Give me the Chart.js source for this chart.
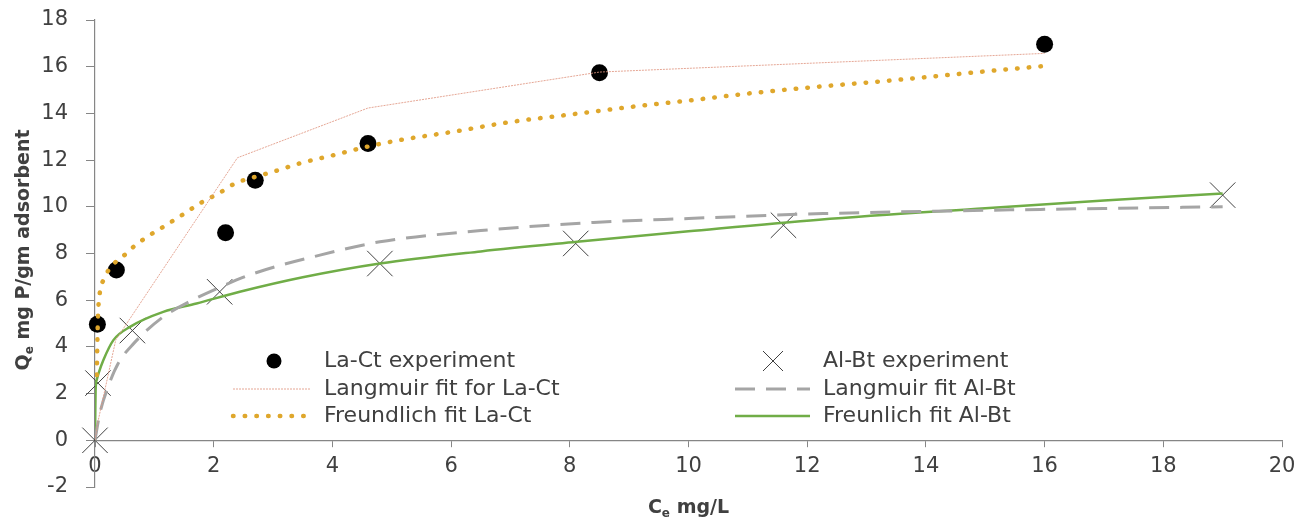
<!DOCTYPE html>
<html>
<head>
<meta charset="utf-8">
<script src="https://cdn.jsdelivr.net/npm/chart.js@4.4.0/dist/chart.umd.min.js"></script>
<style>
  html, body { margin: 0; padding: 0; background: #fff; }
</style>
</head>
<body>
<canvas id="myChart" width="1310" height="525"></canvas>
<script>
// La-Ct experiment
var laCtX = [0.04, 0.36, 2.2, 2.7, 4.6, 8.5, 16];
var laCtY = [4.97, 7.29, 8.89, 11.14, 12.71, 15.74, 16.96];

// Al-Bt experiment
var alBtX = [0, 0.05, 0.63, 2.1, 4.8, 8.1, 11.6, 19];
var alBtY = [0, 2.45, 4.7, 6.36, 7.57, 8.43, 9.21, 10.5];

// Langmuir fit for La-Ct
var langLaX = [0, 0.05, 0.35, 2.4, 4.6, 8.5, 16];
var langLaY = [0, 0.8, 4.3, 12.1, 14.23, 15.77, 16.57];

// Freundlich fit La-Ct
var freLaX = [0.03, 0.04, 0.05, 0.08, 0.15, 0.25, 0.4, 0.53, 0.65, 0.9, 1.15, 1.5, 1.77, 2.1, 2.36, 2.71, 3.0, 3.45, 4.0, 4.58, 5.14, 6, 7, 8, 9.07, 10, 11, 12, 13.5, 15, 16];
var freLaY = [2.8, 4.2, 5.3, 6.3, 6.9, 7.37, 7.75, 8.0, 8.29, 8.75, 9.14, 9.7, 10.15, 10.6, 11.0, 11.29, 11.5, 11.86, 12.2, 12.57, 12.86, 13.2, 13.63, 13.95, 14.29, 14.55, 14.85, 15.1, 15.43, 15.8, 16.03];

// Langmuir fit Al-Bt
var langAlX = [0, 0.08, 0.22, 0.39, 0.65, 1.15, 1.6, 2.1, 2.67, 3.79, 4.8, 6.5, 8.4, 10, 12.27, 15, 17, 19];
var langAlY = [0, 1.14, 2.29, 3.29, 4.14, 5.29, 5.95, 6.55, 7.14, 7.93, 8.5, 8.98, 9.33, 9.5, 9.71, 9.85, 9.93, 10.0];

// Freunlich fit Al-Bt
var freAlX = [0, 0.005, 0.01, 0.03, 0.06, 0.14, 0.31, 0.59, 1.15, 1.71, 2.44, 3.5, 4.8, 6.5, 8.12, 10, 12.2, 15, 17, 19];
var freAlY = [0, 1.2, 2.14, 2.6, 2.87, 3.43, 4.29, 4.86, 5.5, 5.86, 6.36, 6.98, 7.57, 8.09, 8.5, 8.95, 9.45, 9.94, 10.27, 10.57];

var xTicksMin = 0, xTicksMax = 20, xStep = 2;
var yTicksMin = -2, yTicksMax = 18, yStep = 2;

var labels = ['La-Ct experiment', 'Langmuir fit for La-Ct', 'Freundlich fit La-Ct',
              'Al-Bt experiment', 'Langmuir fit Al-Bt', 'Freunlich fit Al-Bt'];

var axisColor = '#868686';
var textColor = '#404040';
var fontFam = '"DejaVu Sans", "Open Sans", sans-serif';

function pts(xs, ys) {
  return xs.map(function (x, i) { return { x: x, y: ys[i] }; });
}

// legend in two columns inside the plot
var legendCols = [
  { marker: 274, from: 233, to: 310, text: 324 },
  { marker: 773, from: 735, to: 810, text: 823 }
];
var legendRows = [361, 389, 416];

function drawMarker(ctx, ds, x, y) {
  ctx.save();
  if (ds.pointStyle === 'crossRot') {
    var h = 10;
    ctx.strokeStyle = ds.pointBorderColor;
    ctx.lineWidth = 1;
    ctx.beginPath();
    ctx.moveTo(x - h, y - h); ctx.lineTo(x + h, y + h);
    ctx.moveTo(x - h, y + h); ctx.lineTo(x + h, y - h);
    ctx.stroke();
  } else {
    ctx.fillStyle = ds.pointBackgroundColor;
    ctx.beginPath();
    ctx.arc(x, y, 7.5, 0, Math.PI * 2);
    ctx.fill();
  }
  ctx.restore();
}

function drawLineSample(ctx, ds, x1, x2, y) {
  ctx.save();
  ctx.strokeStyle = ds.borderColor;
  ctx.lineWidth = ds.borderWidth;
  ctx.lineCap = ds.borderCapStyle || 'butt';
  ctx.setLineDash(ds.borderDash || []);
  ctx.beginPath();
  ctx.moveTo(x1, y);
  ctx.lineTo(x2, y);
  ctx.stroke();
  ctx.restore();
}

var legendPlugin = {
  id: 'twoColLegend',
  afterDraw: function (chart) {
    var ctx = chart.ctx;
    var sets = chart.data.datasets;
    for (var i = 0; i < sets.length; i++) {
      var col = legendCols[Math.floor(i / 3)];
      var y = legendRows[i % 3];
      var ds = sets[i];
      if (ds.showLine) {
        drawLineSample(ctx, ds, col.from, col.to, y);
      } else {
        drawMarker(ctx, ds, col.marker, y);
      }
      ctx.save();
      ctx.fillStyle = textColor;
      ctx.font = '22px ' + fontFam;
      ctx.textBaseline = 'middle';
      ctx.textAlign = 'left';
      ctx.fillText(ds.label, col.text, y);
      ctx.restore();
    }
  }
};

// axis titles with subscript e
function drawSubTitle(ctx, main, sub, rest, cx, cy, rotate) {
  var big = 'bold 19px ' + fontFam;
  var small = 'bold 12px ' + fontFam;
  ctx.save();
  ctx.translate(cx, cy);
  if (rotate) ctx.rotate(-Math.PI / 2);
  ctx.fillStyle = textColor;
  ctx.textBaseline = 'middle';
  ctx.textAlign = 'left';
  ctx.font = big;
  var w1 = ctx.measureText(main).width;
  var w3 = ctx.measureText(rest).width;
  ctx.font = small;
  var w2 = ctx.measureText(sub).width;
  var x = -(w1 + w2 + w3) / 2;
  ctx.font = big;
  ctx.fillText(main, x, 0);
  ctx.font = small;
  ctx.fillText(sub, x + w1, 6);
  ctx.font = big;
  ctx.fillText(rest, x + w1 + w2, 0);
  ctx.restore();
}

var titlePlugin = {
  id: 'axisTitles',
  afterDraw: function (chart) {
    var a = chart.chartArea;
    drawSubTitle(chart.ctx, 'Q', 'e', ' mg P/gm adsorbent', 24, 250, true);
    drawSubTitle(chart.ctx, 'C', 'e', ' mg/L', (a.left + a.right) / 2, 508, false);
  }
};

var ctx = document.getElementById('myChart').getContext('2d');
var myChart = new Chart(ctx, {
  type: 'scatter',
  data: {
    datasets: [
      {
        label: labels[0],
        data: pts(laCtX, laCtY),
        showLine: false,
        pointStyle: 'circle',
        pointRadius: 8.5,
        pointBackgroundColor: '#000000',
        pointBorderColor: '#000000',
        pointBorderWidth: 0,
        order: 2,
        clip: false
      },
      {
        label: labels[1],
        data: pts(langLaX, langLaY),
        showLine: true,
        pointRadius: 0,
        borderColor: 'rgba(225,150,130,0.85)',
        borderWidth: 1,
        borderDash: [2, 1],
        tension: 0,
        order: 1
      },
      {
        label: labels[2],
        data: pts(freLaX, freLaY),
        showLine: true,
        pointRadius: 0,
        borderColor: '#DFA72C',
        borderWidth: 4.5,
        borderCapStyle: 'round',
        borderDash: [0.5, 11.2],
        cubicInterpolationMode: 'monotone',
        order: 1
      },
      {
        label: labels[3],
        data: pts(alBtX, alBtY),
        showLine: false,
        pointStyle: 'crossRot',
        pointRadius: 18,
        pointBorderColor: '#404040',
        pointBackgroundColor: '#404040',
        pointBorderWidth: 1,
        order: 2,
        clip: false
      },
      {
        label: labels[4],
        data: pts(langAlX, langAlY),
        showLine: true,
        pointRadius: 0,
        borderColor: '#A5A5A5',
        borderWidth: 3,
        borderDash: [20, 11],
        cubicInterpolationMode: 'monotone',
        order: 1
      },
      {
        label: labels[5],
        data: pts(freAlX, freAlY),
        showLine: true,
        pointRadius: 0,
        borderColor: '#70AD47',
        borderWidth: 2.5,
        cubicInterpolationMode: 'monotone',
        order: 1
      }
    ]
  },
  options: {
    responsive: false,
    animation: false,
    devicePixelRatio: 1,
    layout: { autoPadding: false, padding: { left: 0, right: 28, top: 20, bottom: 38 } },
    plugins: {
      legend: { display: false },
      tooltip: { enabled: false }
    },
    scales: {
      x: {
        type: 'linear',
        min: xTicksMin,
        max: xTicksMax,
        position: { y: 0 },
        ticks: {
          stepSize: xStep,
          color: textColor,
          font: { family: fontFam, size: 21 },
          padding: 8,
          maxRotation: 0
        },
        grid: { drawOnChartArea: false, drawTicks: true, tickLength: 6, color: axisColor },
        border: { display: true, color: axisColor, width: 1.2 }
      },
      y: {
        type: 'linear',
        min: yTicksMin,
        max: yTicksMax,
        position: 'left',
        afterFit: function (scale) {
          scale.width = 95;
          // tick padding should not push the plot down
          scale.paddingTop = 10;
          scale.paddingBottom = 10;
        },
        ticks: {
          stepSize: yStep,
          color: textColor,
          font: { family: fontFam, size: 21 },
          padding: 18
        },
        grid: { drawOnChartArea: false, drawTicks: true, tickLength: 9, color: axisColor },
        border: { display: true, color: axisColor, width: 1.2 }
      }
    }
  },
  plugins: [legendPlugin, titlePlugin]
});
</script>
</body>
</html>
